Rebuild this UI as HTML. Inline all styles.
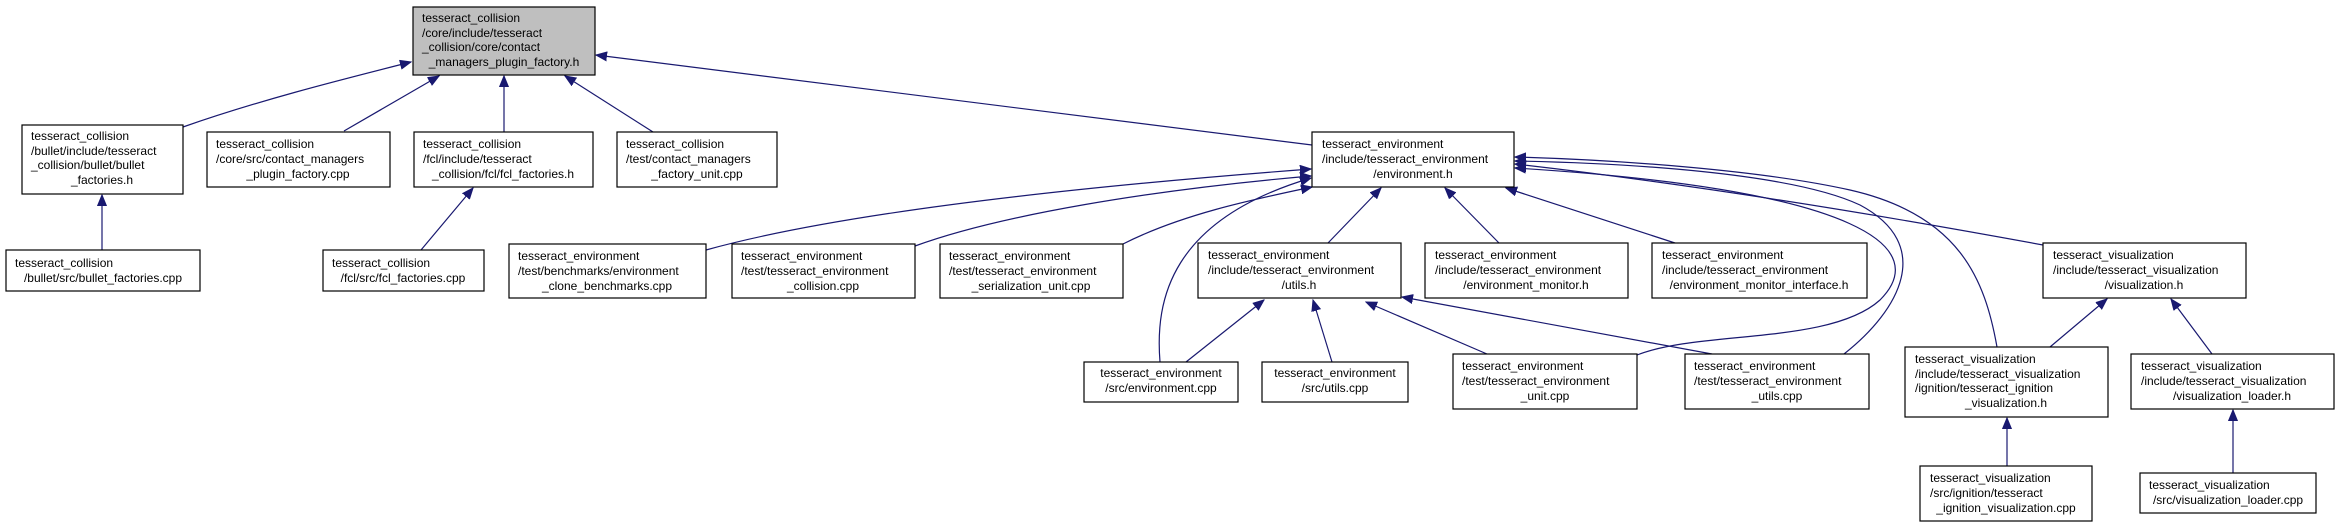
<!DOCTYPE html>
<html><head><meta charset="utf-8"><style>
html,body{margin:0;padding:0;background:#fff;}
svg{display:block;}
text{font-family:"Liberation Sans",Arial,sans-serif;font-size:12px;fill:#000;}
</style></head><body>
<svg width="2340" height="527" viewBox="0 0 2340 527" xmlns="http://www.w3.org/2000/svg">
<defs>
<marker id="a" markerUnits="userSpaceOnUse" markerWidth="12" markerHeight="10" refX="11" refY="5" orient="auto">
<path d="M0,0.5 L11,5 L0,9.5 Z" fill="#191970" stroke="#191970"/>
</marker>
</defs>
<g fill="none" stroke="#191970" stroke-width="1.2" marker-end="url(#a)">
<path d="M183,127 C260,100 340,80 411,62"/>
<path d="M344,131 L439,76"/>
<path d="M504,132 L504,76"/>
<path d="M653,132 L565,76"/>
<path d="M1312,145 L596,55"/>
<path d="M102,250 L102,195"/>
<path d="M421,250 L473,188"/>
<path d="M706,250 C850,210 1100,185 1311,169"/>
<path d="M915,246 C1000,215 1150,190 1311,176"/>
<path d="M1123,244 C1180,215 1250,200 1312,187"/>
<path d="M1160,362 C1155,300 1170,220 1311,178"/>
<path d="M1328,243 L1381,188"/>
<path d="M1499,243 L1445,188"/>
<path d="M1675,243 L1506,188"/>
<path d="M2043,245 C1880,215 1700,185 1515,164"/>
<path d="M1637,355 C1700,330 1830,345 1880,300 C1930,250 1870,190 1515,168"/>
<path d="M1844,354 C1900,310 1935,245 1860,205 C1790,172 1620,163 1515,161"/>
<path d="M1997,347 C1985,280 1960,215 1850,190 C1760,170 1620,160 1515,157"/>
<path d="M1186,362 L1264,300"/>
<path d="M1332,362 L1313,300"/>
<path d="M1487,354 L1366,302"/>
<path d="M1712,354 L1402,297"/>
<path d="M2050,347 L2107,299"/>
<path d="M2212,354 L2171,299"/>
<path d="M2007,466 L2007,418"/>
<path d="M2233,473 L2233,410"/>
</g>
<g stroke="#000" stroke-width="1.2" fill="#fff">
<rect x="413" y="7" width="182" height="68" fill="#bfbfbf"/>
<rect x="22" y="125" width="161" height="69"/>
<rect x="207" y="132" width="183" height="55"/>
<rect x="414" y="132" width="179" height="55"/>
<rect x="617" y="132" width="160" height="55"/>
<rect x="6" y="250" width="194" height="41"/>
<rect x="323" y="250" width="161" height="41"/>
<rect x="1312" y="132" width="202" height="55"/>
<rect x="509" y="244" width="197" height="54"/>
<rect x="732" y="244" width="183" height="54"/>
<rect x="940" y="244" width="183" height="54"/>
<rect x="1198" y="243" width="203" height="55"/>
<rect x="1425" y="243" width="203" height="55"/>
<rect x="1652" y="243" width="215" height="55"/>
<rect x="2043" y="243" width="203" height="55"/>
<rect x="1084" y="362" width="154" height="40"/>
<rect x="1262" y="362" width="146" height="40"/>
<rect x="1453" y="354" width="184" height="55"/>
<rect x="1685" y="354" width="184" height="55"/>
<rect x="1905" y="347" width="203" height="70"/>
<rect x="2131" y="354" width="203" height="55"/>
<rect x="1920" y="466" width="172" height="55"/>
<rect x="2140" y="473" width="176" height="40"/>
</g>
<g>
<text x="422" y="22">tesseract_collision</text><text x="422" y="37">/core/include/tesseract</text><text x="422" y="51">_collision/core/contact</text><text x="504" y="66" text-anchor="middle">_managers_plugin_factory.h</text>

<text x="31" y="140">tesseract_collision</text><text x="31" y="155">/bullet/include/tesseract</text><text x="31" y="169">_collision/bullet/bullet</text><text x="102" y="184" text-anchor="middle">_factories.h</text>

<text x="216" y="148">tesseract_collision</text><text x="216" y="163">/core/src/contact_managers</text><text x="298" y="178" text-anchor="middle">_plugin_factory.cpp</text>

<text x="423" y="148">tesseract_collision</text><text x="423" y="163">/fcl/include/tesseract</text><text x="503" y="178" text-anchor="middle">_collision/fcl/fcl_factories.h</text>

<text x="626" y="148">tesseract_collision</text><text x="626" y="163">/test/contact_managers</text><text x="697" y="178" text-anchor="middle">_factory_unit.cpp</text>

<text x="15" y="267">tesseract_collision</text><text x="103" y="282" text-anchor="middle">/bullet/src/bullet_factories.cpp</text>

<text x="332" y="267">tesseract_collision</text><text x="403" y="282" text-anchor="middle">/fcl/src/fcl_factories.cpp</text>

<text x="1322" y="148">tesseract_environment</text><text x="1322" y="163">/include/tesseract_environment</text><text x="1413" y="178" text-anchor="middle">/environment.h</text>

<text x="518" y="260">tesseract_environment</text><text x="518" y="275">/test/benchmarks/environment</text><text x="607" y="290" text-anchor="middle">_clone_benchmarks.cpp</text>

<text x="741" y="260">tesseract_environment</text><text x="741" y="275">/test/tesseract_environment</text><text x="823" y="290" text-anchor="middle">_collision.cpp</text>

<text x="949" y="260">tesseract_environment</text><text x="949" y="275">/test/tesseract_environment</text><text x="1031" y="290" text-anchor="middle">_serialization_unit.cpp</text>

<text x="1208" y="259">tesseract_environment</text><text x="1208" y="274">/include/tesseract_environment</text><text x="1299" y="289" text-anchor="middle">/utils.h</text>

<text x="1435" y="259">tesseract_environment</text><text x="1435" y="274">/include/tesseract_environment</text><text x="1526" y="289" text-anchor="middle">/environment_monitor.h</text>

<text x="1662" y="259">tesseract_environment</text><text x="1662" y="274">/include/tesseract_environment</text><text x="1759" y="289" text-anchor="middle">/environment_monitor_interface.h</text>

<text x="2053" y="259">tesseract_visualization</text><text x="2053" y="274">/include/tesseract_visualization</text><text x="2144" y="289" text-anchor="middle">/visualization.h</text>

<text x="1161" y="377" text-anchor="middle">tesseract_environment</text><text x="1161" y="392" text-anchor="middle">/src/environment.cpp</text>

<text x="1335" y="377" text-anchor="middle">tesseract_environment</text><text x="1335" y="392" text-anchor="middle">/src/utils.cpp</text>

<text x="1462" y="370">tesseract_environment</text><text x="1462" y="385">/test/tesseract_environment</text><text x="1545" y="400" text-anchor="middle">_unit.cpp</text>

<text x="1694" y="370">tesseract_environment</text><text x="1694" y="385">/test/tesseract_environment</text><text x="1777" y="400" text-anchor="middle">_utils.cpp</text>

<text x="1915" y="363">tesseract_visualization</text><text x="1915" y="378">/include/tesseract_visualization</text><text x="1915" y="392">/ignition/tesseract_ignition</text><text x="2006" y="407" text-anchor="middle">_visualization.h</text>

<text x="2141" y="370">tesseract_visualization</text><text x="2141" y="385">/include/tesseract_visualization</text><text x="2232" y="400" text-anchor="middle">/visualization_loader.h</text>

<text x="1930" y="482">tesseract_visualization</text><text x="1930" y="497">/src/ignition/tesseract</text><text x="2006" y="512" text-anchor="middle">_ignition_visualization.cpp</text>

<text x="2149" y="489">tesseract_visualization</text><text x="2228" y="504" text-anchor="middle">/src/visualization_loader.cpp</text>
</g>
</svg>
</body></html>
